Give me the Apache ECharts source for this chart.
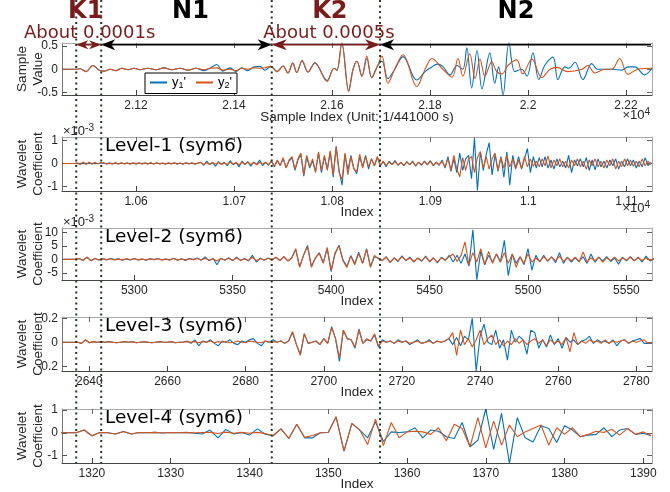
<!DOCTYPE html>
<html>
<head>
<meta charset="utf-8">
<script src="https://cdn.jsdelivr.net/npm/echarts@6/dist/echarts.min.js"></script>
<style>html,body{margin:0;padding:0;background:#fff}#main{width:670px;height:492px}</style>
</head>
<body>
<div id="main"></div>
<script>
// ---- raw signal (top panel): [sample index, value] read at peaks / troughs
var sigBlue = [[21049,0],[21078,0],[21086,.01],[21098,-.05],[21112,.08],[21125,-.02],[21135,-.04],[21147,0],[21159,-.03],[21171,.02],[21184,-.01],[21196,.02],[21208,-.01],[21224,.02],[21241,-.01],[21257,.03],[21273,-.01],[21290,.02],[21306,-.02],[21322,.02],[21339,-.03],[21351,.02],[21365,.1],[21377,-.04],[21392,.03],[21404,-.05],[21416,.03],[21428,-.03],[21441,.05],[21453,.06],[21463,-.02],[21475,.06],[21488,-.05],[21500,.07],[21510,-.08],[21520,.13],[21528,-.07],[21539,.17],[21551,-.06],[21565,.13],[21590,-.24],[21604,.02],[21610,-.02],[21620,.56],[21634,-.45],[21643,0],[21651,.17],[21661,-.15],[21671,.23],[21681,-.18],[21692,.05],[21702,.17],[21714,-.2],[21728,0],[21745,.27],[21773,-.23],[21790,-.05],[21804,.05],[21815,.11],[21826,.06],[21841,-.12],[21855,.08],[21867,0],[21875,.46],[21885,-.4],[21896,.4],[21906,-.42],[21922,.35],[21932,-.3],[21940,.05],[21949,-.55],[21961,.57],[21973,-.05],[21987,0],[21998,-.15],[22010,.35],[22022,-.22],[22034,.08],[22051,.26],[22061,-.22],[22075,.05],[22083,.02],[22096,.15],[22112,-.22],[22130,.12],[22142,0],[22157,0],[22173,0],[22191,-.02],[22204,.05],[22218,.05],[22238,-.12],[22253,.02]];
var sigOrange = [[21049,0],[21078,0],[21086,.01],[21098,-.05],[21112,.08],[21125,-.02],[21135,-.04],[21147,0],[21159,-.03],[21171,.02],[21184,-.01],[21196,.02],[21208,-.01],[21224,.02],[21241,-.01],[21257,.03],[21273,-.01],[21290,.02],[21306,-.02],[21322,.02],[21339,-.01],[21351,.02],[21365,.03],[21377,-.02],[21392,0],[21404,-.03],[21416,.02],[21428,0],[21441,.03],[21453,.02],[21463,.03],[21475,.06],[21488,-.05],[21500,.07],[21510,-.08],[21520,.13],[21528,-.07],[21539,.19],[21551,-.06],[21565,.14],[21590,-.26],[21604,.02],[21610,-.02],[21620,.56],[21634,-.48],[21643,0],[21651,.17],[21661,-.15],[21671,.28],[21681,-.18],[21692,.05],[21702,.28],[21714,-.3],[21728,0],[21745,.31],[21773,-.37],[21790,0],[21804,.23],[21826,0],[21845,-.17],[21857,.23],[21867,-.15],[21881,.33],[21892,-.2],[21902,.22],[21912,-.15],[21926,.16],[21936,-.05],[21947,-.1],[21959,.08],[21977,.2],[21989,-.1],[22008,.22],[22028,-.18],[22045,0],[22059,.04],[22081,-.05],[22110,0],[22122,.08],[22136,-.08],[22157,0],[22171,0],[22187,.23],[22204,-.11],[22224,0],[22253,.02]];

// ---- wavelet coefficients: first index, index step, values
var lv1Start = 10525, lv1Step = 3;   // values in units of 1e-3
var lv1Blue = [0,0,0,0,0, 0,.01,-.01,.01,0,.01,-.01,0,.01,
  .01,-.01,.02,-.01,.01,-.02,.01,0,.02,-.01,.01,-.02,.01,-.01,.02,-.01,.01,-.02,.02,-.01,.01,-.02,.01,-.01,.02,-.01,.01,-.02,.02,-.01,.01,-.02,.01,
  .05,-.08,.1,-.05,.03,-.12,.08,-.03,.05,-.1,.12,-.06,.04,-.15,.1,-.05,.08,-.12,.06,-.04,.15,-.1,.05,-.08,
  .1,-.15,.12,-.08,.2,-.18,.1,
  .25,-.3,.15,.4,-.55,.3,-.2,.1,-.35,.45,-.4,.3,-.25,.5,-.6,.75,-.3,-.95,.4,
  -.3,.35,-.2,-.45,.3,-.15,.35,-.25,.2,-.1,.25,
  -.1,.08,-.15,.1,-.05,.12,-.08,.05,-.1,.08,-.06,.1,-.12,.05,-.08,.1,-.05,.12,-.1,.06,-.08,
  .15,-.2,.3,-.35,.2,-.4,.45,-.3,.2,.35,-.66,1.12,-1.18,.5,-.3,.4,.9,-.5,.4,-.35,.3,-.6,.5,-.95,.35,-.2,.3,-.25,.2,.65,-.4,.3,
  -.2,.25,-.15,.3,-.2,.15,-.25,.2,-.15,.1,-.2,.35,-.4,.15,-.1,.2,-.15,.25,-.3,.15,-.28,.2,-.15,.1,-.2,.15,-.1,.2,-.25,.1,-.15,.2,-.1,.15,-.2,.1,-.15,.25,-.1,.05];
var lv1Orange = [0,0,0,0,0, .03,-.06,.07,-.05,.06,-.04,.05,-.03,.04,
  .03,-.03,.02,-.03,.04,-.02,.03,-.03,.02,-.04,.03,-.02,.03,-.03,.02,-.03,.04,-.02,.03,-.03,.02,-.03,.03,-.02,.03,-.04,.02,-.03,.03,-.02,.03,-.03,.02,
  .04,-.05,.03,-.04,.05,-.03,.04,-.05,.03,-.04,.05,-.03,.04,-.06,.05,-.04,.06,-.05,.04,-.06,.05,-.04,.06,-.05,
  .1,-.12,.15,-.1,.25,-.2,.15,
  .3,-.25,.2,.45,-.5,.35,-.15,.2,-.4,.5,-.3,.35,-.3,.55,-.5,.7,-.4,-.7,.45,
  -.5,.3,-.25,-.35,.4,-.2,.3,-.15,.2,-.1,.3,
  -.08,.1,-.1,.06,-.05,.08,-.06,.05,-.08,.06,-.05,.08,-.1,.06,-.05,.08,-.06,.1,-.08,.05,-.06,
  .1,-.15,.2,-.3,.35,-.25,-.58,.25,-.3,.2,.3,-.4,.25,.52,-.2,.3,-.25,.2,.45,-.3,.25,-.2,.35,-.15,.2,-.25,.15,-.2,.3,-.15,.2,-.12,
  .1,-.15,.2,-.1,.33,-.2,.15,-.1,.2,-.15,.1,-.2,.15,-.1,.2,-.15,.1,-.25,.15,-.1,.2,-.15,.1,-.2,.15,-.1,.2,-.25,.1,-.15,.2,-.1,.15,-.12,.1,-.15,.2,-.1,.1,-.05];

var lv2Start = 5264, lv2Step = 2;    // values in units of 1e-3
var lv2Blue = [0,0,0,0, .3,-.4,.8,-.5,.3,-.2,
  .2,-.2,.3,-.1,.2,-.3,.1,-.2,.3,-.2,.1,-.3,.2,-.1,.3,-.2,.1,-.2,.4,-.3,.2,-.4,.3,-.1,.5,-.3,
  .9,-.5,.3,-2,.4,-.3,.6,-.5,.8,-.4,.3,-.6,1.5,-1,.4,-.3,.5,-.2,
  .8,-.5,1,-.6,.5,3.7,-2.7,
  1.5,5.2,-2.7,.5,2.5,-1.2,4,-4.6,2,5.3,-.2,-2.6,1.4,-1.6,2.7,-1.5,4,-2.6,1,.5,
  -.5,1,-1.2,.6,-.8,1.3,-.5,.8,-1,.5,-.7,1.2,-.9,.6,-1.3,.8,-.4,
  1.5,-1,1.5,-1.5,2,-2.5,11,-7.6,3,-2,1.5,-1,2,-1,7.1,-6.1,2,-1.5,1,-2,4,-4,1.5,
  -1,1.5,-.8,1,-1.2,2.5,-1.5,.8,-1,.6,-.8,1,-1.5,2,-1,.8,-.6,1,-.8,.5,-1.8,.8,-.6,1,-.5,.8,-1,1.2,-.6,.3];
var lv2Orange = [0,0,0,0, .3,-.4,.8,-.5,.3,-.2,
  .2,-.1,.2,-.2,.1,-.2,.2,-.1,.2,-.2,.1,-.2,.2,-.1,.2,-.2,.1,-.2,.3,-.2,.1,-.2,.2,-.1,.3,-.2,
  .4,-.3,.2,-.6,.3,-.2,.4,-.3,.5,-.3,.2,-.4,.8,-.5,.3,-.2,.4,-.2,
  .8,-.5,1,-.6,.5,4,-3,
  1.5,4.8,-3,.5,2.2,-1.5,4.5,-4,2.5,5,-.5,-3,1.2,-2,2.2,-1.5,3.8,-3,1.5,.2,
  -.4,.8,-1,.5,-.6,1,-.4,.6,-.8,.4,-.5,.9,-.7,.5,-1,.6,-.3,
  1,2,-.8,1.5,6.5,-2,2.5,-1,4,-2,3,-1.5,2,-1,2.5,-1.5,2,-3,1,-1.5,2,-1,.5,
  -.8,1,-.5,.8,-.6,1.2,-.8,.6,-.5,.8,-1,2.8,-1,.6,-.5,.8,-1,.6,-.4,.8,-.6,.5,-.3,.8,-.5,.6,-.4,.5,-.3,.2];

var lv3Start = 2633, lv3Step = 1;
var lv3Blue = [0,0,0,0,0,-.01,.02,-.005,.005,0,.005,
  0,.005,0,-.005,0,.005,0,.005,-.005,0,.005,0,-.005,0,.005,0,0,.005,-.005,0,
  0,.01,-.01,.02,-.03,.01,0,.02,-.01,-.03,.01,0,.02,-.01,-.02,.01,0,.02,.03,-.01,-.03,.01,0,.02,0,
  .01,-.01,.01,.08,-.02,-.1,.07,-.01,0,.01,-.02,.03,-.01,.13,.03,-.16,.1,.03,.02,-.05,.11,-.01,.02,.01,.06,-.04,
  .02,0,.01,-.01,.02,0,.01,-.02,0,.02,-.01,0,.02,-.01,.01,0,
  .01,.03,-.02,.04,-.03,.05,.02,.2,-.24,.05,.15,0,-.02,.1,-.05,.02,-.15,.1,0,.05,.02,-.1,.1,.08,-.05,.02,-.04,.06,-.02,.03,-.05,.04,0,.02,-.02,.01,.02,.05,-.01,.02,0,.01,-.01,.02,-.03,.01,.02,-.01,.01,.02,.03,-.01,-.01,-.01];
var lv3Orange = [0,0,0,0,0,-.01,.02,-.005,.005,0,.005,
  0,.005,0,-.005,0,.005,0,.005,-.005,0,.005,0,-.005,0,.005,0,0,.005,-.005,0,
  0,.005,0,.005,-.005,.005,0,.01,-.005,.005,0,.005,-.005,0,.01,0,-.005,.01,.005,0,-.005,.01,0,.005,0,
  .01,-.01,.01,.09,-.02,-.11,.07,-.01,0,.01,-.02,.03,-.01,.12,.03,-.13,.1,.03,.02,-.04,.1,-.01,.03,.01,.07,-.03,
  .01,0,.01,-.01,.01,0,.01,-.01,0,.01,-.01,0,.01,-.01,.01,0,
  .01,.03,.08,-.11,.1,-.02,.03,-.04,.02,.1,-.02,.03,.06,-.02,.02,-.03,.01,-.02,.03,-.01,.02,-.02,.01,.03,-.01,.02,-.03,.02,-.01,.01,-.02,.04,-.08,.08,-.02,.01,-.01,.02,0,.01,-.01,.02,-.01,.01,0,.01,.02,-.01,.01,0,.01,.02,-.01,0];

var lv4Start = 1316, lv4Step = 1;
var lv4Blue = [0,0,0,.12,-.13,.01,0,-.05,.06,-.05,
  .01,0,.02,-.01,.01,0,.02,-.02,-.05,.12,
  -.22,.15,-.05,.01,-.1,.17,-.06,-.13,.17,-.25,
  .37,-.22,-.22,0,.01,.7,-.8,.41,.12,-.22,
  .48,-.38,.04,.01,.04,.22,-.22,.12,.07,-.17,
  -.25,.45,-.61,-.32,1.04,-.72,.85,-1.34,.66,-.22,
  -.4,.31,.19,-.42,.31,.12,-.17,-.1,-.07,.22,
  -.17,.12,.19,-.07,-.02,-.13];
var lv4Orange = [0,0,0,.12,-.13,.01,0,-.05,.06,-.05,
  .01,0,.02,-.01,.01,0,.01,0,.01,.02,
  -.03,.03,-.02,.02,-.02,.02,-.03,-.13,.17,-.25,
  .37,-.2,-.12,0,.01,.7,-.8,.41,.12,-.51,
  .6,-.56,.45,-.22,.04,.07,.04,-.07,.22,-.35,
  .37,.19,-.61,.66,-.66,.51,-.54,.34,-.17,.04,
  .19,.34,-.54,.22,-.07,.22,-.17,-.07,.07,.01,
  .15,-.1,.19,-.07,.04,-.13];

// ---- axis ticks
var sigTicks = [21200, 21400, 21600, 21800, 22000, 22200];
var lv1Ticks = [10600, 10700, 10800, 10900, 11000, 11100];
var lv2Ticks = [5300, 5350, 5400, 5450, 5500, 5550];
var lv3Ticks = [2640, 2660, 2680, 2700, 2720, 2740, 2760, 2780];
var lv4Ticks = [1320, 1330, 1340, 1350, 1360, 1370, 1380, 1390];
var sigYTicks = [-0.5, 0, 0.5];
var lv1YTicks = [-1, 0, 1];
var lv2YTicks = [-5, 0, 5, 10];
var lv3YTicks = [-0.2, 0, 0.2];
var lv4YTicks = [-1, 0, 1];

// ---- region boundaries (sample index) and labels
var edges = [21078, 21129, 21477, 21698];
var regionNames = ['K1', 'N1', 'K2', 'N2'];
var spanLabels = ['About 0.0001s', 'About 0.0005s'];

var BLUE = '#0072BD', ORANGE = '#D95319', DARKRED = '#7b1c1c';
var AX = "'Liberation Sans', Arial, sans-serif";
var ANN = "'DejaVu Sans', sans-serif";

function toPairs(start, step, vals) {
    return vals.map(function (v, i) { return [start + i * step, v]; });
}
function e4(v) { return String(+(v / 1e4).toFixed(2)); }
function plain(v) { return String(v); }

var panels = [
    {top: 43, h: 52, x: [21049, 22253], xt: sigTicks, y: [-0.55, 0.56], yt: sigYTicks,
     xName: 'Sample Index (Unit: 1/441000 s)', yName: 'Sample\nValue', fmt: e4,
     blue: sigBlue, orange: sigOrange, smooth: 0.35},
    {top: 137, h: 54, x: [10524.5, 11126], xt: lv1Ticks, y: [-1.2, 1.15], yt: lv1YTicks,
     xName: 'Index', yName: 'Wavelet\nCoefficient', fmt: e4,
     blue: toPairs(lv1Start, lv1Step, lv1Blue), orange: toPairs(lv1Start, lv1Step, lv1Orange)},
    {top: 228, h: 52, x: [5263.3, 5563], xt: lv2Ticks, y: [-7.7, 11.7], yt: lv2YTicks,
     xName: 'Index', yName: 'Wavelet\nCoefficient', fmt: plain,
     blue: toPairs(lv2Start, lv2Step, lv2Blue), orange: toPairs(lv2Start, lv2Step, lv2Orange)},
    {top: 317, h: 54, x: [2633, 2784], xt: lv3Ticks, y: [-0.24, 0.21], yt: lv3YTicks,
     xName: 'Index', yName: 'Wavelet\nCoefficient', fmt: plain,
     blue: toPairs(lv3Start, lv3Step, lv3Blue), orange: toPairs(lv3Start, lv3Step, lv3Orange)},
    {top: 409, h: 54, x: [1316.2, 1391.1], xt: lv4Ticks, y: [-1.32, 1.04], yt: lv4YTicks,
     xName: 'Index', yName: 'Wavelet\nCoefficient', fmt: plain,
     blue: toPairs(lv4Start, lv4Step, lv4Blue), orange: toPairs(lv4Start, lv4Step, lv4Orange)}
];

var grid = [], xAxis = [], yAxis = [], series = [];
panels.forEach(function (p, i) {
    grid.push({left: 62, top: p.top, width: 590, height: p.h, containLabel: false, outerBoundsMode: 'none'});
    xAxis.push({
        type: 'value', gridIndex: i, min: p.x[0], max: p.x[1], position: 'bottom',
        axisLine: {onZero: false, lineStyle: {color: '#444', width: 1}},
        axisTick: {inside: true, length: 5, customValues: p.xt, lineStyle: {color: '#444'}},
        axisLabel: {customValues: p.xt, formatter: p.fmt, color: '#262626', fontSize: 12, fontFamily: AX, margin: 5},
        splitLine: {show: false},
        name: p.xName, nameLocation: 'middle', nameGap: i === 0 ? 15 : 14, nameMoveOverlap: false,
        nameTextStyle: {color: '#262626', fontSize: 13.5, fontFamily: AX}
    });
    xAxis.push({
        type: 'value', gridIndex: i, min: p.x[0], max: p.x[1], position: 'top',
        axisLine: {onZero: false, lineStyle: {color: '#aaa', width: 1}},
        axisTick: {inside: true, length: 5, customValues: p.xt, lineStyle: {color: '#666'}},
        axisLabel: {show: false}, splitLine: {show: false}
    });
    yAxis.push({
        type: 'value', gridIndex: i, min: p.y[0], max: p.y[1], position: 'left',
        axisLine: {show: true, onZero: false, lineStyle: {color: '#777', width: 1}},
        axisTick: {show: true, inside: true, length: 5, customValues: p.yt, lineStyle: {color: '#555'}},
        axisLabel: {customValues: p.yt, color: '#262626', fontSize: 12, fontFamily: AX, margin: 4},
        splitLine: {show: false},
        name: p.yName, nameLocation: 'middle', nameRotate: 90, nameGap: 16, nameMoveOverlap: false,
        nameTextStyle: {color: '#262626', fontSize: 13.5, fontFamily: AX, lineHeight: 16}
    });
    yAxis.push({
        type: 'value', gridIndex: i, min: p.y[0], max: p.y[1], position: 'right',
        axisLine: {show: true, onZero: false, lineStyle: {color: '#aaa', width: 1}},
        axisTick: {show: true, inside: true, length: 5, customValues: p.yt, lineStyle: {color: '#666'}},
        axisLabel: {show: false}, splitLine: {show: false}
    });
    [['blue', BLUE, "y1'"], ['orange', ORANGE, "y2'"]].forEach(function (s) {
        series.push({
            type: 'line', name: i === 0 ? s[2] : s[2] + ' L' + i,
            xAxisIndex: 2 * i, yAxisIndex: 2 * i, data: p[s[0]],
            showSymbol: false, smooth: p.smooth || false,
            lineStyle: {color: s[1], width: 1.1}, itemStyle: {color: s[1]}
        });
    });
});

var option = {
    animation: false,
    backgroundColor: '#fff',
    grid: grid, xAxis: xAxis, yAxis: yAxis, series: series,
    legend: {
        data: ["y1'", "y2'"], left: 145, top: 73,
        icon: 'rect', itemWidth: 17, itemHeight: 2, itemGap: 10,
        padding: [3, 5, 3, 5], borderColor: '#000', borderWidth: 1, borderRadius: 0,
        backgroundColor: '#fff',
        formatter: function (n) { return '{t|y}{s|' + n.charAt(1) + '}{t|\'}'; },
        textStyle: {color: '#000', fontFamily: AX, fontSize: 13,
            rich: {t: {fontSize: 13, fontFamily: AX, color: '#000'},
                   s: {fontSize: 9, fontFamily: AX, color: '#000', verticalAlign: 'bottom', padding: [7, 0, 0, 0]}}}
    }
};

var myChart = echarts.init(document.getElementById('main'));
myChart.setOption(option);

// ---- annotations placed from data coordinates of the top panel
var xs = edges.map(function (v) { return myChart.convertToPixel({xAxisIndex: 0}, v); });
var xRight = myChart.convertToPixel({xAxisIndex: 0}, panels[0].x[1]);
var arrowY = myChart.convertToPixel({yAxisIndex: 0}, 0.5) - 1;
var bottomY = panels[4].top + panels[4].h;

function txt(x, y, text, font, color, align, extra) {
    var st = {text: text, x: x, y: y, font: font, fill: color,
              textAlign: align || 'center', align: align || 'center',
              textVerticalAlign: 'middle', verticalAlign: 'middle'};
    if (extra) { for (var k in extra) st[k] = extra[k]; }
    return {type: 'text', z: 110, style: st};
}
function head(tip, y, dir, color, len, half) {
    return {type: 'polygon', z: 105, shape: {points: [[tip, y], [tip - dir * len, y - half],
        [tip - dir * len * 0.72, y], [tip - dir * len, y + half]]}, style: {fill: color}};
}
function shaft(a, b, y, color, w) {
    return {type: 'line', z: 104, shape: {x1: a, y1: y, x2: b, y2: y}, style: {stroke: color, lineWidth: w}};
}

var g = [];
xs.forEach(function (x) {
    g.push({type: 'line', z: 100, shape: {x1: x, y1: 0, x2: x, y2: bottomY},
        style: {stroke: '#243a24', lineWidth: 2, lineDash: [2, 3.5]}});
});
var bounds = xs.concat([xRight]);
regionNames.forEach(function (n, k) {
    var mid = (bounds[k] + bounds[k + 1]) / 2;
    if (k === 0) mid -= 3;
    if (k === 1) mid += 4;
    if (k === 2) mid += 4;
    g.push(txt(mid, 12, n, "bold 24px " + ANN, n.charAt(0) === 'K' ? DARKRED : '#000'));
});
g.push(txt((bounds[0] + bounds[1]) / 2 + 1, 33, spanLabels[0], "18px " + ANN, DARKRED));
g.push(txt((bounds[2] + bounds[3]) / 2 + 3, 33, spanLabels[1], "18px " + ANN, DARKRED));

// arrows
g.push(shaft(xs[0] + 4, xs[1] - 4, arrowY, DARKRED, 1.5));
g.push(head(xs[0], arrowY, -1, DARKRED, 12, 4.5));
g.push(head(xs[1], arrowY, 1, DARKRED, 12, 4.5));
g.push(shaft(xs[1] + 6, xs[2] - 6, arrowY, '#000', 1.6));
g.push(head(xs[1], arrowY, -1, '#000', 14, 5.5));
g.push(head(xs[2], arrowY, 1, '#000', 14, 5.5));
g.push(shaft(xs[2] + 6, xs[3] - 6, arrowY, DARKRED, 1.5));
g.push(head(xs[2], arrowY, -1, DARKRED, 15, 5.5));
g.push(head(xs[3], arrowY, 1, DARKRED, 15, 5.5));
g.push(shaft(xs[3] + 6, xRight - 1, arrowY, '#000', 1.6));
g.push(head(xs[3], arrowY, -1, '#000', 14, 5.5));

// panel titles and exponent notes
['Level-1 (sym6)', 'Level-2 (sym6)', 'Level-3 (sym6)', 'Level-4 (sym6)'].forEach(function (t, k) {
    g.push(txt(105, panels[k + 1].top + 9, t, "18.5px " + ANN, '#000', 'left'));
});
var supRich = {a: {fontSize: 13, fontFamily: AX, fill: '#262626', color: '#262626'},
               b: {fontSize: 10, fontFamily: AX, fill: '#262626', color: '#262626', verticalAlign: 'top', padding: [0, 0, 6, 0]}};
g.push(txt(650, panels[0].top + panels[0].h + 20, '{a|×10}{b|4}', "13px " + AX, '#262626', 'right', {rich: supRich}));
g.push(txt(650, panels[1].top + panels[1].h + 17, '{a|×10}{b|4}', "13px " + AX, '#262626', 'right', {rich: supRich}));
g.push(txt(63, panels[1].top - 6, '{a|×10}{b|-3}', "13px " + AX, '#262626', 'left', {rich: supRich}));
g.push(txt(63, panels[2].top - 6, '{a|×10}{b|-3}', "13px " + AX, '#262626', 'left', {rich: supRich}));

myChart.setOption({graphic: {elements: g}});
</script>
</body>
</html>
